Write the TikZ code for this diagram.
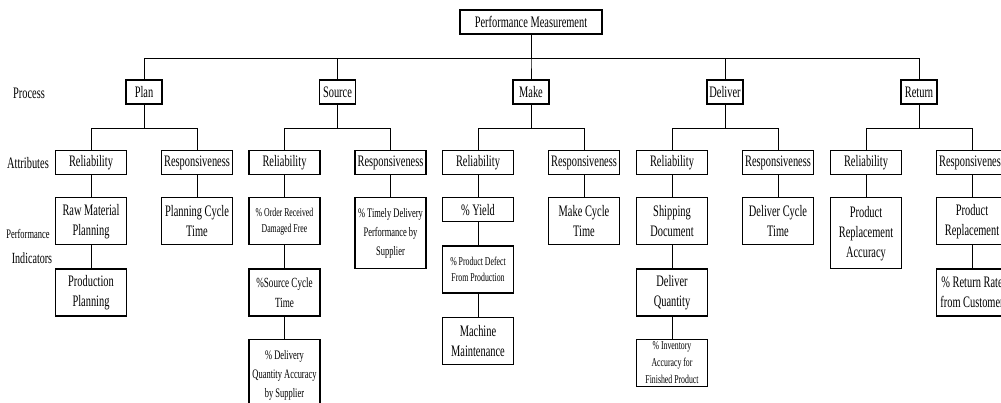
\documentclass[tikz,border=0pt]{standalone}
\usepackage{fontspec}
\setmainfont[FakeStretch=0.65]{Liberation Serif}
\usetikzlibrary{positioning}

\begin{document}
\begin{tikzpicture}[x=1pt, y=-1pt, node distance=23pt,
    box/.style={draw, line width=1.3pt, fill=white, align=center, inner sep=1pt,
        minimum width=71pt, minimum height=24pt, font=\fontsize{16}{20}\selectfont},
    two/.style={minimum height=47pt},
    three/.style={minimum height=71pt},
    sm/.style={font=\fontsize{12}{16}\selectfont},
    md/.style={font=\fontsize{13}{19}\selectfont},
    link/.style={line width=1pt},
    lbl/.style={font=\fontsize{16}{20}\selectfont}]
    \useasboundingbox (0,0) rectangle (1001,403);
    \clip (0,0) rectangle (1001,403);

    % top and processes
    \node[box, minimum width=142pt] (pm) at (531,22) {Performance Measurement};
    \foreach \n/\x/\t in {plan/144/Plan, source/337.5/Source, make/531/Make,
                          deliver/725/Deliver, return/919/Return} {
        \node[box, minimum width=36pt] (\n) at (\x,92) {\t};
        \draw[link] (pm.south) -- ++(0,24) -| (\n.north);
        % attributes
        \node[box] (\n-rel) at (\x-53,162.5) {Reliability};
        \node[box] (\n-res) at (\x+53,162.5) {Responsiveness};
        \draw[link] (\n.south) -- ++(0,24) -| (\n-rel.north);
        \draw[link] (\n.south) -- ++(0,24) -| (\n-res.north);
    }

    % left labels
    \node[lbl] (lproc) at (29,93) {Process};
    \node[lbl] (lattr) at (28,163) {Attributes};
    \node[font=\fontsize{13}{15}\selectfont] (lperf) at (28,234) {Performance};
    \node[font=\fontsize{15.5}{18}\selectfont] (lind) at (32,258) {Indicators};

    % plan
    \node[box, two, below=22pt of plan-rel] (rawmat) {Raw Material\\Planning};
    \node[box, two, below=23pt of rawmat] (prodplan) {Production\\Planning};
    \node[box, two, below=22pt of plan-res] (plancyc) {Planning Cycle\\Time};
    % source
    \node[box, two, sm, below=22pt of source-rel] (damfree) {\% Order Received\\Damaged Free};
    \node[box, two, font=\fontsize{14}{20}\selectfont, below=23pt of damfree] (srccyc) {\%Source Cycle\\Time};
    \node[box, three, md, below=22pt of srccyc] (qtyacc) {\% Delivery\\Quantity Accuracy\\by Supplier};
    \node[box, three, md, below=22pt of source-res] (timely) {\% Timely Delivery\\Performance by\\Supplier};
    % make
    \node[box, below=22pt of make-rel] (yield) {\% Yield};
    \node[box, two, sm, below=23pt of yield] (defect) {\% Product Defect\\From Production};
    \node[box, two, below=23pt of defect] (machine) {Machine\\Maintenance};
    \node[box, two, below=22pt of make-res] (makecyc) {Make Cycle\\Time};
    % deliver
    \node[box, two, below=22pt of deliver-rel] (shipdoc) {Shipping\\Document};
    \node[box, two, below=23pt of shipdoc] (delqty) {Deliver\\Quantity};
    \node[box, two, font=\fontsize{12}{17}\selectfont, below=22pt of delqty] (invacc) {\% Inventory\\Accuracy for\\Finished Product};
    \node[box, two, below=22pt of deliver-res] (delcyc) {Deliver Cycle\\Time};
    % return
    \node[box, three, below=22pt of return-rel] (replacc) {Product\\Replacement\\Accuracy};
    \node[box, two, below=22pt of return-res] (repl) {Product\\Replacement};
    \node[box, two, below=23pt of repl] (retrate) {\% Return Rate\\from Customer};

    \foreach \a/\b in {plan-rel/rawmat, rawmat/prodplan, plan-res/plancyc,
                       source-rel/damfree, damfree/srccyc, srccyc/qtyacc, source-res/timely,
                       make-rel/yield, yield/defect, defect/machine, make-res/makecyc,
                       deliver-rel/shipdoc, shipdoc/delqty, delqty/invacc, deliver-res/delcyc,
                       return-rel/replacc, return-res/repl, repl/retrate}
        \draw[link] (\a) -- (\b);
\end{tikzpicture}
\end{document}
